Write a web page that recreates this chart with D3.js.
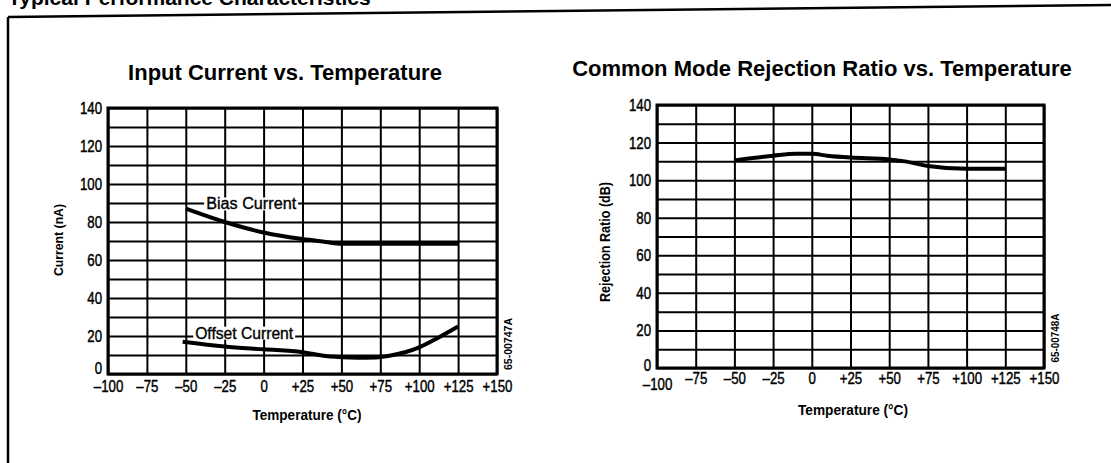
<!DOCTYPE html>
<html><head><meta charset="utf-8">
<script src="https://cdn.jsdelivr.net/npm/d3@7"></script>
<style>
body{margin:0;background:#fff;}
svg{display:block;}
.narrow{font-family:"Liberation Sans",Arial,sans-serif;}
</style></head><body>
<svg id="c" width="1111" height="463"></svg>
<script>
// ---- data ----
const xTicks = [-100,-75,-50,-25,0,25,50,75,100,125,150];
const yTicks = [0,10,20,30,40,50,60,70,80,90,100,110,120,130,140];
const yLabelTicks = [0,20,40,60,80,100,120,140];

const biasTemp = [-50,-25,0,25,40,50,75,100,125];
const biasCurrent = [87,80,74.5,71,69.5,68.5,68.5,68.5,68.5];

const offsetTemp = [-52,-25,0,25,40,55,65,80,100,112,125];
const offsetCurrent = [17,14.5,13,11.5,9.5,8.7,8.5,9.5,14,19,25];

const cmrrTemp = [-50,-25,-10,0,10,25,50,60,75,100,125];
const cmrrValue = [110.5,113,114,114,113,112,111,110,107.5,106,106];

const titles = ["Input Current vs. Temperature","Common Mode Rejection Ratio vs. Temperature"];
const yTitles = ["Current (nA)","Rejection Ratio (dB)"];
const xTitle = "Temperature (\u00B0C)";
const codes = ["65-00747A","65-00748A"];
const seriesLabels = [{text:"Bias Current",x:-8,y:89.5,len:90},{text:"Offset Current",x:-12.5,y:21.5,len:98}];

// ---- drawing ----
const svg = d3.select("#c");
svg.append("rect").attr("width",1111).attr("height",463).attr("fill","#fff");

// header (cut off by the scan)
svg.append("text").attr("x",8).attr("y",5).attr("font-family","Arial, Liberation Sans, sans-serif")
  .attr("font-weight","bold").attr("font-size",21).text("Typical Performance Characteristics");
// frame
svg.append("line").attr("x1",8).attr("y1",17).attr("x2",1111).attr("y2",5).attr("stroke","#000").attr("stroke-width",2.5);
svg.append("line").attr("x1",8).attr("y1",17).attr("x2",8).attr("y2",463).attr("stroke","#000").attr("stroke-width",2.5);

const fmtX = d => d>0 ? "+"+d : (d<0 ? "\u2013"+Math.abs(d) : "0");
const SX = 0.78; // horizontal condensing of tick labels

function drawChart(cfg){
  const x = d3.scaleLinear().domain([-100,150]).range([cfg.x0,cfg.x1]);
  const y = d3.scaleLinear().domain([0,140]).range([cfg.y0,cfg.y1]);
  const g = svg.append("g");
  // title
  g.append("text").attr("x",cfg.titleX).attr("y",cfg.titleY).attr("text-anchor","middle")
    .attr("font-family","Arial, Liberation Sans, sans-serif").attr("font-weight","bold")
    .attr("font-size",22).text(cfg.title);
  // grid via axes
  const gx = g.append("g").attr("transform",`translate(0,${cfg.y0})`)
    .call(d3.axisBottom(x).tickValues(xTicks).tickSize(-(cfg.y0-cfg.y1)).tickFormat(fmtX).tickPadding(cfg.xPad));
  const gy = g.append("g").attr("transform",`translate(${cfg.x0},0)`)
    .call(d3.axisLeft(y).tickValues(yTicks).tickSize(-(cfg.x1-cfg.x0))
      .tickFormat(d => yLabelTicks.includes(d) ? d : "").tickPadding(6));
  [gx,gy].forEach(a=>{
    a.select(".domain").remove();
    a.selectAll(".tick line").attr("stroke","#000").attr("stroke-width",2);
    a.selectAll(".tick text").attr("class","narrow").attr("fill","#000")
      .attr("stroke","#000").attr("stroke-width",0.45)
      .attr("font-size",17).attr("font-weight","normal");
  });
  // condense tick labels horizontally
  gy.selectAll(".tick text").attr("x",-6/SX).attr("transform",`scale(${SX},1)`);
  gx.selectAll(".tick text").attr("transform",`scale(${SX},1)`);
  gy.selectAll(".tick text").filter(d=>d===0).attr("dy",cfg.zeroDy);
  if(cfg.zeroUp){
    gx.selectAll(".tick text").filter(d=>d===-100).attr("dy","1.08em");
  }
  // frame
  g.append("rect").attr("x",cfg.x0).attr("y",cfg.y1).attr("width",cfg.x1-cfg.x0).attr("height",cfg.y0-cfg.y1)
    .attr("fill","none").attr("stroke","#000").attr("stroke-width",3);
  // series
  const line = d3.line().x(d=>x(d[0])).y(d=>y(d[1])).curve(d3.curveMonotoneX);
  cfg.series.forEach(s=>{
    g.append("path").datum(d3.zip(s.t,s.v)).attr("d",line).attr("fill","none")
      .attr("stroke","#000").attr("stroke-width",4).attr("stroke-linecap","butt");
  });
  // series labels
  (cfg.labels||[]).forEach(l=>{
    const t = g.append("text").attr("class","narrow").attr("x",x(l.x)).attr("y",y(l.y))
      .attr("text-anchor","middle").attr("dominant-baseline","central").attr("font-size",16)
      .attr("stroke","#000").attr("stroke-width",0.35)
      .attr("textLength",l.len).attr("lengthAdjust","spacingAndGlyphs").text(l.text);
    const bb = t.node().getBBox();
    g.insert("rect",()=>t.node()).attr("x",x(l.x)-l.len/2-2).attr("y",bb.y+2).attr("width",l.len+4).attr("height",bb.height-4).attr("fill","#fff");
  });
  // axis titles
  g.append("text").attr("class","narrow").attr("x",cfg.xtX).attr("y",cfg.xtY).attr("text-anchor","middle")
    .attr("font-weight","bold").attr("font-size",15).attr("textLength",cfg.xtLen).attr("lengthAdjust","spacingAndGlyphs").text(xTitle);
  g.append("text").attr("class","narrow").attr("transform",`translate(${cfg.ytX},${cfg.ytY}) rotate(-90)`)
    .attr("text-anchor","middle").attr("dominant-baseline","central").attr("font-weight","bold").attr("font-size",cfg.ytSize)
    .attr("textLength",cfg.ytLen).attr("lengthAdjust","spacingAndGlyphs").text(cfg.yTitle);
  // code
  g.append("text").attr("class","narrow").attr("transform",`translate(${cfg.codeX},${cfg.codeY}) rotate(-90)`)
    .attr("text-anchor","middle").attr("dominant-baseline","central").attr("font-size",11).attr("font-weight","bold")
    .attr("textLength",cfg.codeLen).attr("lengthAdjust","spacingAndGlyphs").text(cfg.code);
}

drawChart({x0:108,x1:497,y0:374,y1:108,title:titles[0],titleX:285,titleY:80,xPad:6,zeroDy:-1,
  series:[{t:biasTemp,v:biasCurrent},{t:offsetTemp,v:offsetCurrent}],labels:seriesLabels,
  xtX:307,xtY:420,xtLen:109,yTitle:yTitles[0],ytX:58,ytY:240,ytSize:13,ytLen:72,
  code:codes[0],codeX:508,codeY:344,codeLen:52});
drawChart({x0:657,x1:1044,y0:368,y1:105,title:titles[1],titleX:822,titleY:76,xPad:4,zeroDy:2.5,zeroUp:true,
  series:[{t:cmrrTemp,v:cmrrValue}],
  xtX:853,xtY:415,xtLen:110,yTitle:yTitles[1],ytX:605,ytY:242,ytSize:14,ytLen:120,
  code:codes[1],codeX:1055,codeY:338,codeLen:49});
</script>
</body></html>
